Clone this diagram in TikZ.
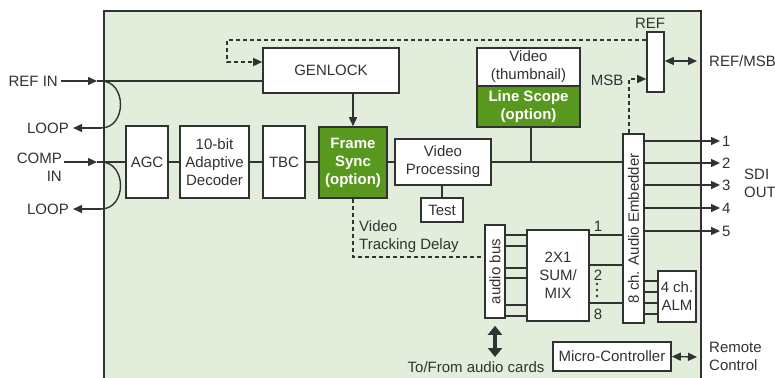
\documentclass[tikz,border=0pt]{standalone}
\usepackage{fontspec}
\setmainfont{Liberation Sans}
\usetikzlibrary{arrows.meta}
\definecolor{panel}{RGB}{226,237,220}
\definecolor{optgreen}{RGB}{88,152,30}
\definecolor{ink}{RGB}{50,50,50}
\begin{document}
\begin{tikzpicture}[x=1pt,y=-1pt,
  every node/.style={font=\fontsize{15}{18}\selectfont, text=ink, inner sep=0pt},
  box/.style={draw=ink, line width=1.6pt, fill=white, align=center},
  optbox/.style={box, fill=optgreen, text=white, font=\fontsize{15}{18}\selectfont\bfseries},
  wire/.style={draw=ink, line width=1.4pt},
  tip/.style={-{Triangle[length=9pt,width=8pt]}},
  dtip/.style={{Triangle[length=9pt,width=8pt]}-{Triangle[length=9pt,width=8pt]}},
  dashwire/.style={wire, dash pattern=on 4pt off 3pt},
]
\useasboundingbox (0,0) rectangle (775,377);
\clip (0,0) rectangle (775,377);
\fill[white] (0,0) rectangle (775,377);
\draw[fill=panel, draw=ink, line width=1.6pt] (104,11) rectangle (701,395);

% boxes
\node[box, minimum width=136pt, minimum height=45pt] (genlock) at (331,70.5) {GENLOCK};
\node[box, minimum width=103pt, minimum height=38pt] (thumb) at (528.5,67) {Video\\(thumbnail)};
\node[optbox, minimum width=103pt, minimum height=41pt] (scope) at (528.5,106.5) {Line Scope\\(option)};
\node[box, minimum width=17pt, minimum height=60pt] (ref) at (655.5,62) {};
\node[box, minimum width=42pt, minimum height=72pt] (agc) at (147,162) {AGC};
\node[box, minimum width=69pt, minimum height=72pt] (dec) at (214.5,162) {10-bit\\Adaptive\\Decoder};
\node[box, minimum width=42pt, minimum height=72pt] (tbc) at (284,162) {TBC};
\node[optbox, minimum width=68pt, minimum height=71pt] (fs) at (353,162.5) {Frame\\Sync\\(option)};
\node[box, minimum width=96pt, minimum height=46pt] (vp) at (443,162) {Video\\Processing};
\node[box, minimum width=42pt, minimum height=24pt] (test) at (442,210) {Test};
\node[box, minimum width=21pt, minimum height=189pt] (emb) at (633.5,228.5) {};
\node[rotate=90] (embtxt) at (emb.center) {8 ch. Audio Embedder};
\node[box, minimum width=38pt, minimum height=51pt] (alm) at (677,296.5) {4 ch.\\ALM};
\node[box, minimum width=20pt, minimum height=93pt] (abus) at (495,271.5) {};
\node[rotate=90] (abustxt) at (abus.center) {audio bus};
\node[box, minimum width=62pt, minimum height=91pt] (sum) at (558,275.5) {2X1\\SUM/\\MIX};
\node[box, minimum width=118pt, minimum height=29pt] (mc) at (612,356.5) {Micro-Controller};

% labels
\node[anchor=east] (refin) at (58,81) {REF IN};
\node (loop1) at (48,128) {LOOP};
\node[align=right, anchor=north east] (compin) at (62,153) {COMP\\IN};
\node (loop2) at (48,209) {LOOP};
\node (reflbl) at (650,23) {REF};
\node (msb) at (607,80) {MSB};
\node[anchor=west] (refmsb) at (709,61) {REF/MSB};
\node[anchor=west] (o1) at (722,141) {1};
\node[anchor=west] (o2) at (722,163) {2};
\node[anchor=west] (o3) at (722,185) {3};
\node[anchor=west] (o4) at (722,208) {4};
\node[anchor=west] (o5) at (722,231) {5};
\node[anchor=west, align=left] (sdi) at (744,183) {SDI\\OUT};
\node (s1) at (598,226) {1};
\node (s2) at (598,275) {2};
\node (s8) at (598,314) {8};
\node[anchor=west, align=left] (vtd) at (359,237) {Video\\Tracking Delay};
\node (tofrom) at (476,367) {To/From audio cards};
\node[anchor=west, align=left] (remote) at (709,356) {Remote\\Control};

% REF IN and loop
\coordinate (ra) at (97,81);
\draw[wire, tip] ([xshift=3pt]refin.east) -- (ra);
\draw[wire] (ra) -- (genlock.west |- ra);
\coordinate (l1a) at (101,128);
\draw[wire] (101,81) .. controls (127,81) and (127,128) .. (l1a);
\draw[wire, tip] (l1a) -- ([xshift=4pt]loop1.east);

% COMP IN and loop
\coordinate (ca) at (97,162);
\draw[wire, tip] (64,162) -- (ca);
\draw[wire] (ca) -- (agc.west);
\coordinate (l2a) at (101,209);
\draw[wire] (101,162) .. controls (127,162) and (127,209) .. (l2a);
\draw[wire, tip] (l2a) -- ([xshift=4pt]loop2.east);

% main video path
\draw[wire] (agc.east) -- (dec.west);
\draw[wire] (dec.east) -- (tbc.west);
\draw[wire] (tbc.east) -- (tbc.east -| fs.west);
\draw[wire] (fs.east |- vp.west) -- (vp.west);
\draw[wire] (vp.east) -- (vp.east -| emb.west);
\coordinate (sc) at (531,162);
\draw[wire] (scope.south -| sc) -- (sc);
\draw[wire] (vp.south -| test.north) -- (test.north);
\draw[wire, tip] (genlock.south -| fs.north) -- (fs.north);

% dashed reference
\coordinate (d1) at (227,40);
\coordinate (d2) at (227,62);
\draw[dashwire, tip] (ref.west |- d1) -- (d1) -- (d2) -- (genlock.west |- d2);
\coordinate (m1) at (629,79);
\draw[dashwire, tip] (emb.north -| m1) -- (m1) -- (ref.west |- m1);
\draw[wire, dtip] (ref.east |- 0,61) -- (697,61);

% video tracking delay
\coordinate (v1) at (353,257);
\draw[dashwire] (fs.south -| v1) -- (v1) -- (abus.west |- v1);

% outputs
\foreach \y/\n in {141/o1,163/o2,185/o3,208/o4,231/o5}
  \draw[wire, tip] (emb.east |- 0,\y) -- ([xshift=-2pt]\n.west);

% audio bus to sum
\foreach \y in {235,246,268,278,305,316}
  \draw[wire] (abus.east |- 0,\y) -- (sum.west |- 0,\y);
% sum to embedder
\foreach \y in {235,265,303}
  \draw[wire] (sum.east |- 0,\y) -- (emb.west |- 0,\y);
\foreach \y in {284,290,296}
  \fill[ink] (597,\y) circle (1.3pt);
% embedder to ALM
\foreach \y in {281,292,303,314}
  \draw[wire] (emb.east |- 0,\y) -- (alm.west |- 0,\y);

% audio cards
\draw[draw=ink, line width=4pt, {Triangle[length=9pt,width=14pt]}-{Triangle[length=9pt,width=14pt]}] ([yshift=-7pt]abus.south) -- (495,357);
\draw[wire, dtip] (mc.east) -- (697,357);
\end{tikzpicture}
\end{document}
